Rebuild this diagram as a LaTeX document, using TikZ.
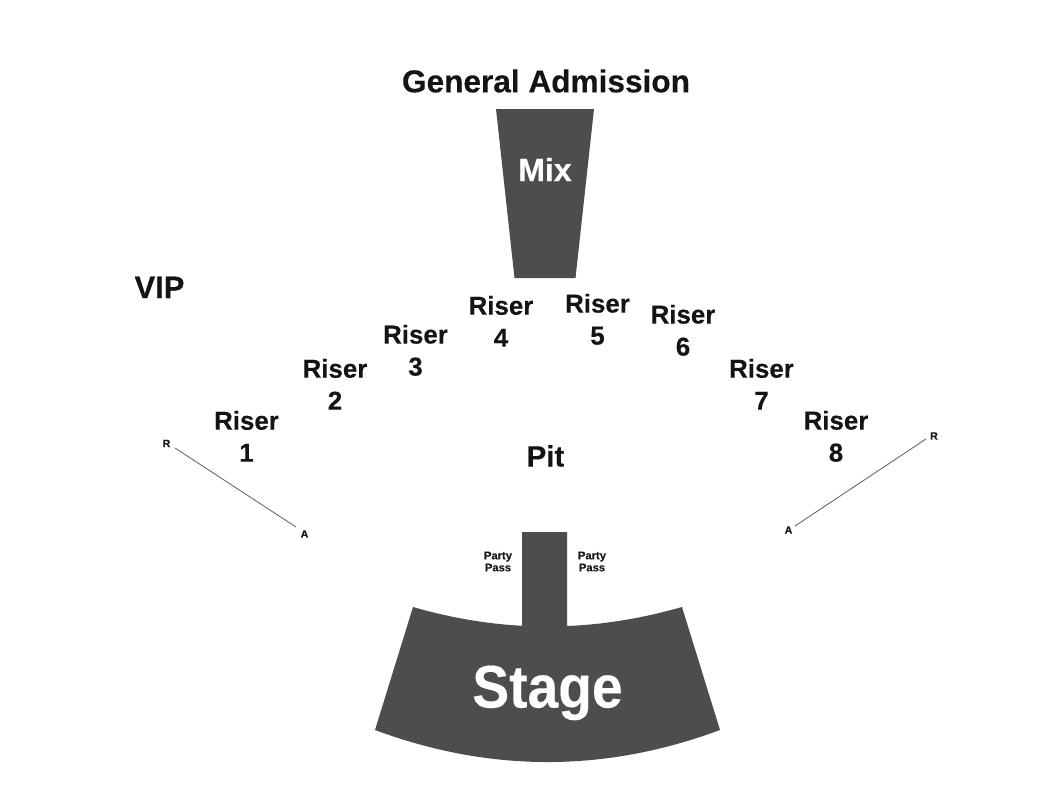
\documentclass[tikz,border=0pt]{standalone}
\usepackage{fontspec}
\setmainfont[BoldFeatures={FakeBold=0.25}]{Liberation Sans}
\tikzset{
  darkshape/.style={fill=shapegrey,draw=none},
  label/.style={inner sep=0pt,align=center,font=\fontsize{19.4pt}{24pt}\selectfont\bfseries,text=black!92},
  tiny/.style={inner sep=0pt,align=center,font=\fontsize{8.4pt}{9pt}\selectfont\bfseries,text=black!90},
  mini/.style={inner sep=0pt,font=\fontsize{8pt}{9pt}\selectfont\bfseries,text=black!90},
  rowline/.style={draw=black!60,line width=0.65pt}
}
\definecolor{shapegrey}{HTML}{4D4D4D}
\begin{document}
\begin{tikzpicture}[x=0.75pt,y=-0.75pt]
\useasboundingbox (0,0) rectangle (1050,800);
\fill[white] (0,0) rectangle (1050,800);
% Mix
\path[darkshape] (496,109) -- (594,109) -- (575.5,278) -- (514.5,278) -- cycle;
% Stage with thrust
\path[darkshape] (413,607) .. controls (449.3,617.5) and (485.7,623.8) .. (522,625.8)
  -- (522,532) -- (567,532) -- (567,626)
  .. controls (605.3,624.5) and (643.3,618) .. (682,607)
  -- (720,730) .. controls (605,772.7) and (490,772.7) .. (375,730) -- cycle;
\node[inner sep=0pt,font=\fontsize{23.7pt}{27pt}\selectfont\bfseries,text=black!92] (ga) at (546,81) {General Admission};
\node[inner sep=0pt,font=\fontsize{24pt}{28pt}\selectfont\bfseries,text=white,anchor=base] (mix) at (545,181) {Mix};
\node[inner sep=0pt,font=\fontsize{45pt}{50pt}\selectfont\bfseries,text=white,anchor=base] (stage) at (547.5,707.5) {\scalebox{0.92}[1]{Stage}};
\node[label,font=\fontsize{23.2pt}{27pt}\selectfont\bfseries,anchor=base] (vip) at (159.5,298) {VIP};
\node[label,font=\fontsize{22pt}{26pt}\selectfont\bfseries,anchor=base] (pit) at (545.5,466.5) {Pit};
\node[label] (r1) at (246.5,436.3) {Riser\\1};
\node[label] (r2) at (335,384.3) {Riser\\2};
\node[label] (r3) at (415.5,350.3) {Riser\\3};
\node[label] (r4) at (501,321.3) {Riser\\4};
\node[label] (r5) at (597.5,319.3) {Riser\\5};
\node[label] (r6) at (683,330.3) {Riser\\6};
\node[label] (r7) at (761.5,384.3) {Riser\\7};
\node[label] (r8) at (836,436.3) {Riser\\8};
\node[tiny] (ppl) at (498,561.5) {Party\\Pass};
\node[tiny] (ppr) at (592,561.5) {Party\\Pass};
\node[mini] (rl) at (166.5,443.5) {R};
\node[mini] (al) at (304.5,534) {A};
\node[mini] (rr) at (934,436) {R};
\node[mini] (ar) at (788.5,530) {A};
\coordinate (rlend) at (175,448);
\coordinate (alend) at (296,527);
\coordinate (rrend) at (926,439);
\coordinate (arend) at (795,526);
\draw[rowline] (rlend) -- (alend);
\draw[rowline] (arend) -- (rrend);
\end{tikzpicture}
\end{document}
